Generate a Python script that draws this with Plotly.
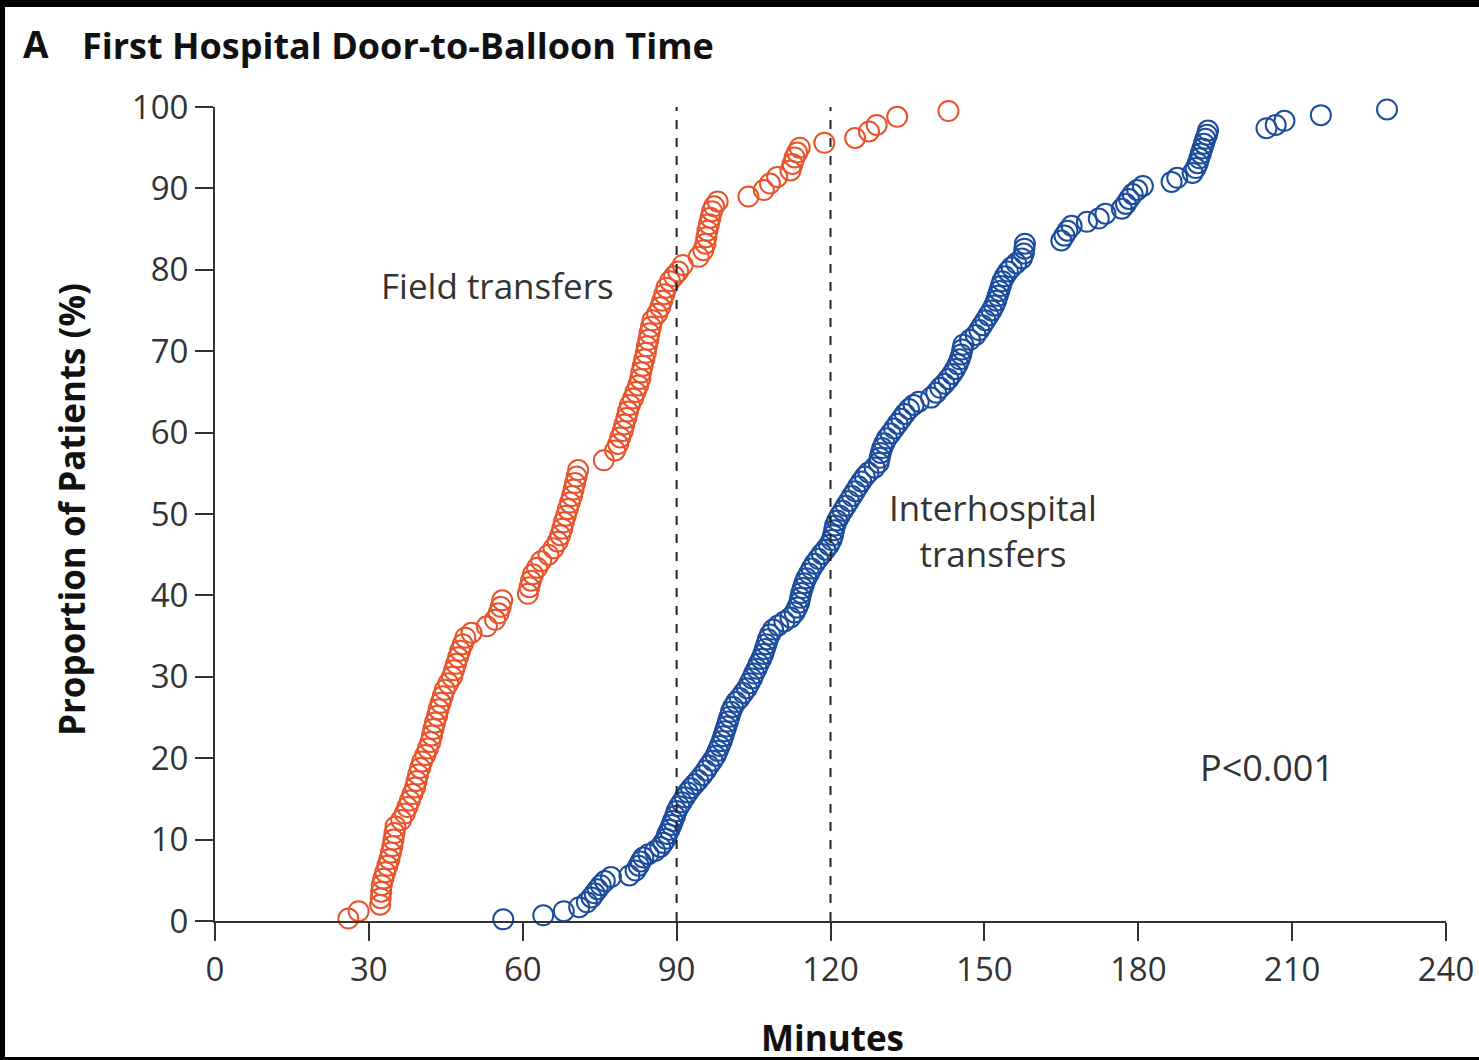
import plotly.graph_objects as go

# ---------------- data ----------------
field_minutes = [
    26.0, 28.0, 32.2, 32.3, 32.4, 32.5, 32.8, 33.2, 33.6, 34.0, 34.3, 34.6, 34.8, 35.0, 35.2,
    36.3, 37.0, 37.5, 38.0, 38.5, 39.0, 39.3, 39.6, 40.0, 40.4, 41.0, 41.5, 42.0, 42.3, 42.6,
    42.9, 43.3, 43.6, 44.0, 44.4, 44.8, 45.5, 46.2, 46.6, 47.0, 47.4, 47.8, 48.3, 48.8, 50.0,
    53.0, 54.6, 55.3, 55.7, 56.0, 61.0, 61.3, 61.6, 62.0, 62.8, 63.6, 65.0, 66.0, 66.8, 67.3,
    67.7, 68.0, 68.4, 68.8, 69.2, 69.6, 69.9, 70.2, 70.5, 70.8, 75.8, 78.0, 78.6, 79.0, 79.5,
    79.8, 80.2, 80.5, 80.9, 81.5, 82.0, 82.5, 82.9, 83.1, 83.4, 83.7, 84.0, 84.2, 84.5, 84.7,
    85.0, 85.3, 86.2, 86.8, 87.2, 87.6, 88.0, 88.7, 89.5, 90.3, 91.2, 94.3, 95.2, 95.6, 95.8,
    96.0, 96.3, 96.6, 96.9, 97.3, 98.0, 104.0, 107.0, 108.2, 109.6, 112.2, 112.6, 113.0, 113.5,
    114.0, 118.8, 124.8, 127.5, 129.0, 133.0, 143.0,
]
field_percent = [
    0.3, 1.2, 2.0, 2.8, 3.6, 4.4, 5.2, 6.0, 6.8, 7.6, 8.4, 9.2, 10.0, 10.8, 11.6,
    12.4, 13.2, 14.0, 14.8, 15.6, 16.4, 17.2, 18.0, 18.8, 19.6, 20.4, 21.2, 22.0, 22.8, 23.6,
    24.4, 25.2, 26.0, 26.8, 27.6, 28.4, 29.2, 30.0, 30.8, 31.6, 32.4, 33.2, 34.0, 34.8, 35.4,
    36.2, 37.0, 37.8, 38.6, 39.4, 40.2, 41.0, 41.8, 42.6, 43.4, 44.2, 45.0, 45.8, 46.6, 47.4,
    48.2, 49.0, 49.8, 50.6, 51.4, 52.2, 53.0, 53.8, 54.6, 55.4, 56.6, 57.8, 58.6, 59.4, 60.2,
    61.0, 61.8, 62.6, 63.4, 64.2, 65.0, 65.8, 66.6, 67.4, 68.2, 69.0, 69.8, 70.6, 71.4, 72.2,
    73.0, 73.8, 74.6, 75.4, 76.2, 77.0, 77.8, 78.6, 79.2, 79.8, 80.6, 81.6, 82.4, 83.2, 84.0,
    84.8, 85.6, 86.4, 87.2, 87.8, 88.4, 89.0, 89.8, 90.6, 91.4, 92.2, 93.0, 93.8, 94.4,
    95.0, 95.6, 96.2, 97.0, 97.8, 98.8, 99.5,
]

inter_minutes = [
    56.2, 64.0, 68.0, 71.0, 72.5, 73.4, 74.0, 74.6, 75.2, 76.0, 77.2, 80.8, 82.0, 82.6, 83.0,
    83.5, 84.5, 85.8, 86.8, 87.4, 87.9, 88.2, 88.6, 89.0, 89.3, 89.7, 90.0, 90.5, 91.0, 91.6,
    92.2, 92.8, 93.5, 94.2, 95.0, 95.7, 96.3, 97.0, 97.6, 98.0, 98.4, 98.8, 99.1, 99.4, 99.7,
    100.0, 100.3, 100.6, 101.0, 101.6, 102.3, 103.0, 103.7, 104.2, 104.7, 105.1, 105.6, 106.0, 106.5, 106.9,
    107.2, 107.5, 107.8, 108.2, 108.8, 109.8, 111.0, 112.2, 113.0, 113.5, 113.9, 114.1, 114.3, 114.6, 114.9,
    115.3, 115.8, 116.3, 116.9, 117.6, 118.3, 119.0, 119.7, 120.2, 120.5, 120.7, 120.9, 121.3, 121.8, 122.4,
    123.0, 123.6, 124.2, 124.8, 125.4, 126.0, 126.7, 127.4, 128.6, 129.4, 129.6, 129.8, 130.1, 130.5, 131.0,
    131.7, 132.4, 133.1, 133.8, 134.5, 135.3, 136.2, 137.2, 139.6, 140.6, 141.4, 142.2, 143.0, 143.7, 144.3,
    144.8, 145.2, 145.5, 145.7, 145.9, 147.2, 148.3, 149.0, 149.6, 150.2, 150.8, 151.4, 151.9, 152.3, 152.6,
    152.9, 153.2, 153.5, 154.0, 154.6, 155.3, 156.2, 157.3, 157.7, 157.8, 157.9, 165.0, 165.6, 166.2, 167.0,
    170.0, 172.3, 173.6, 176.8, 177.6, 178.2, 178.9, 179.8, 180.9, 186.5, 187.6, 190.6, 191.2, 191.6, 191.9,
    192.2, 192.5, 192.8, 193.1, 193.4, 193.6, 205.0, 206.8, 208.5, 215.6, 228.5,
]
inter_percent = [
    0.2, 0.7, 1.2, 1.7, 2.3, 2.9, 3.4, 3.9, 4.4, 4.9, 5.4, 5.6, 6.2, 6.8, 7.3,
    7.8, 8.2, 8.6, 9.1, 9.6, 10.1, 10.7, 11.2, 11.8, 12.3, 12.9, 13.5, 14.1, 14.6, 15.2,
    15.8, 16.3, 16.8, 17.3, 17.9, 18.5, 19.1, 19.7, 20.3, 20.9, 21.5, 22.1, 22.7, 23.3, 23.9,
    24.5, 25.1, 25.7, 26.3, 26.9, 27.4, 28.0, 28.6, 29.2, 29.8, 30.4, 31.0, 31.6, 32.2, 32.8,
    33.4, 34.0, 34.6, 35.2, 35.8, 36.3, 36.8, 37.3, 37.9, 38.5, 39.1, 39.7, 40.3, 40.9, 41.5,
    42.1, 42.7, 43.3, 43.9, 44.5, 45.1, 45.6, 46.2, 46.8, 47.4, 48.0, 48.6, 49.2, 49.8, 50.4,
    51.0, 51.6, 52.2, 52.8, 53.4, 54.0, 54.6, 55.1, 55.7, 56.3, 56.9, 57.5, 58.1, 58.7, 59.3,
    59.9, 60.5, 61.1, 61.7, 62.3, 62.9, 63.4, 63.8, 64.3, 64.9, 65.5, 66.0, 66.6, 67.2, 67.8,
    68.4, 69.0, 69.6, 70.2, 70.8, 71.4, 72.0, 72.6, 73.2, 73.8, 74.4, 75.0, 75.6, 76.2, 76.8,
    77.4, 78.0, 78.6, 79.2, 79.8, 80.3, 80.8, 81.4, 82.0, 82.6, 83.2, 83.6, 84.2, 84.8, 85.4,
    85.9, 86.3, 86.9, 87.5, 88.1, 88.7, 89.3, 89.8, 90.3, 90.8, 91.3, 91.9, 92.5, 93.1, 93.7,
    94.3, 94.9, 95.5, 96.1, 96.6, 97.1, 97.4, 97.8, 98.3, 99.0, 99.7,
]

x_ticks = [0, 30, 60, 90, 120, 150, 180, 210, 240]
y_ticks = [0, 10, 20, 30, 40, 50, 60, 70, 80, 90, 100]
reference_minutes = [90, 120]

title_letter = "A"
title_text = "First Hospital Door-to-Balloon Time"
x_title = "Minutes"
y_title = "Proportion of Patients (%)"
field_label = "Field transfers"
inter_label = "Interhospital<br>transfers"
p_label = "P<0.001"

# ---------------- styling ----------------
W, H = 1479, 1060
ML, MR, MT, MB = 215, 33, 107, 139
PW, PH = W - ML - MR, H - MT - MB
FONT = "Open Sans"
TXT = "#333333"
ORANGE = "#E9532B"
BLUE = "#1C4C9C"


def px_x(px):
    return (px - ML) / PW


def px_y(py):
    return (H - MB - py) / PH


fig = go.Figure()
fig.add_trace(go.Scatter(
    x=field_minutes, y=field_percent, mode="markers", cliponaxis=False,
    marker=dict(symbol="circle-open", size=20, color=ORANGE, line=dict(width=2)),
    showlegend=False, hoverinfo="x+y",
))
fig.add_trace(go.Scatter(
    x=inter_minutes, y=inter_percent, mode="markers", cliponaxis=False,
    marker=dict(symbol="circle-open", size=20, color=BLUE, line=dict(width=2)),
    showlegend=False, hoverinfo="x+y",
))

shapes = []
for m in reference_minutes:
    shapes.append(dict(type="line", xref="x", yref="y", x0=m, x1=m, y0=0, y1=100,
                       line=dict(color="#222222", width=2, dash="dash")))
# black frame strips (top, left, bottom) of the original picture
shapes.append(dict(type="rect", xref="paper", yref="paper", x0=px_x(0), x1=px_x(W),
                   y0=px_y(7), y1=px_y(0), fillcolor="black", line=dict(width=0)))
shapes.append(dict(type="rect", xref="paper", yref="paper", x0=px_x(0), x1=px_x(5),
                   y0=px_y(H), y1=px_y(0), fillcolor="black", line=dict(width=0)))
shapes.append(dict(type="rect", xref="paper", yref="paper", x0=px_x(0), x1=px_x(W),
                   y0=px_y(H), y1=px_y(1057), fillcolor="black", line=dict(width=0)))

annotations = [
    dict(text="<b>" + title_letter + "</b>", x=px_x(21), y=px_y(44), xref="paper", yref="paper",
         showarrow=False, font=dict(family=FONT, size=37, color="#111111"),
         xanchor="left", yanchor="middle"),
    dict(text="<b>" + title_text + "</b>", x=px_x(80), y=px_y(45), xref="paper", yref="paper",
         showarrow=False, font=dict(family=FONT, size=36, color="#111111"),
         xanchor="left", yanchor="middle"),
    dict(text=field_label, x=55, y=78.1, xref="x", yref="y", showarrow=False,
         font=dict(family=FONT, size=35, color=TXT), xanchor="center", yanchor="middle"),
    dict(text=inter_label, x=151.7, y=48.0, xref="x", yref="y", showarrow=False,
         font=dict(family=FONT, size=35, color=TXT), xanchor="center", yanchor="middle"),
    dict(text=p_label, x=205.1, y=18.8, xref="x", yref="y", showarrow=False,
         font=dict(family=FONT, size=36, color=TXT), xanchor="center", yanchor="middle"),
    dict(text="<b>" + y_title + "</b>", x=px_x(72), y=px_y(510), xref="paper", yref="paper",
         showarrow=False, textangle=-90, font=dict(family=FONT, size=35, color="#111111"),
         xanchor="center", yanchor="middle"),
    dict(text="<b>" + x_title + "</b>", x=px_x(832), y=px_y(1037), xref="paper", yref="paper",
         showarrow=False, font=dict(family=FONT, size=35, color="#111111"),
         xanchor="center", yanchor="middle"),
]

fig.update_layout(
    width=W, height=H,
    margin=dict(l=ML, r=MR, t=MT, b=MB, autoexpand=False),
    paper_bgcolor="white", plot_bgcolor="white",
    shapes=shapes, annotations=annotations,
    xaxis=dict(range=[0, 240], tickvals=x_ticks, ticktext=[str(v) for v in x_ticks],
               showgrid=False, zeroline=False, showline=True, linecolor=TXT, linewidth=2,
               ticks="outside", ticklen=18, tickwidth=2, tickcolor=TXT,
               tickfont=dict(family=FONT, size=33, color=TXT), fixedrange=True),
    yaxis=dict(range=[0, 100], tickvals=y_ticks, ticktext=[str(v) for v in y_ticks],
               showgrid=False, zeroline=False, showline=True, linecolor=TXT, linewidth=2,
               ticks="outside", ticklen=18, tickwidth=2, tickcolor=TXT,
               tickfont=dict(family=FONT, size=33, color=TXT), fixedrange=True),
)

fig.write_html("out.html")
